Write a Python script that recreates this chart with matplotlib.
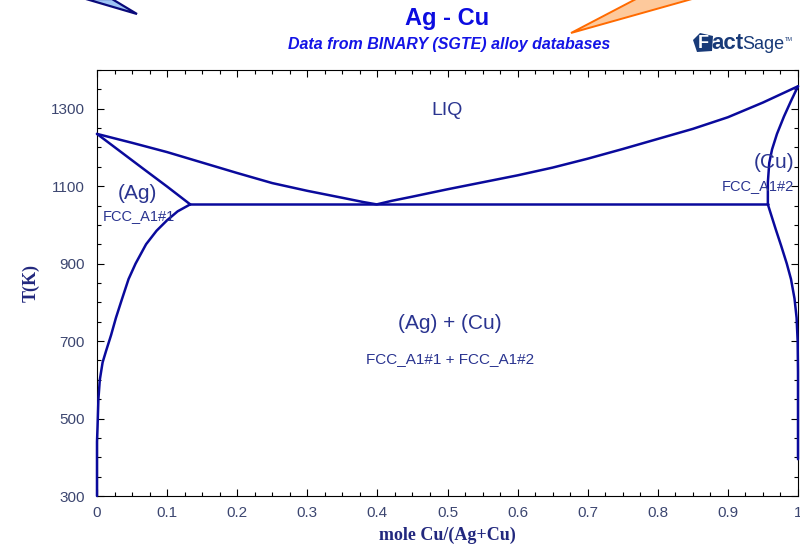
import matplotlib
matplotlib.use("Agg")
import matplotlib.pyplot as plt
from matplotlib.patches import Polygon
from matplotlib.ticker import MultipleLocator

# ---------------- data ----------------
liq_x = [0.0, 0.05, 0.10, 0.15, 0.20, 0.25, 0.30, 0.35, 0.38, 0.399, 0.42, 0.45,
         0.50, 0.55, 0.60, 0.65, 0.70, 0.75, 0.80, 0.85, 0.90, 0.95, 0.975, 1.0]
liq_T = [1235, 1212, 1188, 1161, 1134, 1108, 1088, 1070, 1059, 1053, 1062, 1073,
         1092, 1110, 1128, 1148, 1171, 1196, 1222, 1248, 1278, 1316, 1337, 1358]

ag_sol_x = [0.0, 0.033, 0.066, 0.10, 0.133]
ag_sol_T = [1235, 1190, 1145, 1099, 1053]

ag_svs_x = [0.133, 0.115, 0.10, 0.085, 0.07, 0.055, 0.045, 0.035, 0.027, 0.02,
            0.013, 0.008, 0.004, 0.002, 0.0008, 0.0, 0.0]
ag_svs_T = [1053, 1035, 1012, 985, 950, 900, 860, 805, 760, 715,
            675, 645, 600, 550, 480, 440, 300]

cu_sol_x = [1.0, 0.99, 0.98, 0.97, 0.963, 0.959, 0.957, 0.957]
cu_sol_T = [1358, 1320, 1280, 1235, 1195, 1160, 1110, 1053]

cu_svs_x = [0.957, 0.961, 0.968, 0.976, 0.984, 0.99, 0.995, 0.998, 0.9995, 1.0, 1.0]
cu_svs_T = [1053, 1030, 990, 946, 900, 860, 810, 760, 700, 620, 395]

eut_x = [0.133, 0.957]
eut_T = [1053, 1053]

x_ticks = [0, 0.1, 0.2, 0.3, 0.4, 0.5, 0.6, 0.7, 0.8, 0.9, 1]
x_tick_labels = ["0", "0.1", "0.2", "0.3", "0.4", "0.5", "0.6", "0.7", "0.8", "0.9", "1"]
y_ticks = [300, 500, 700, 900, 1100, 1300]

# ---------------- style ----------------
line_c = "#0a0a9c"
text_c = "#2a3490"
tick_c = "#3c4670"
sans = ["Liberation Sans", "DejaVu Sans"]
serif = ["Liberation Serif", "DejaVu Serif"]

fig = plt.figure(figsize=(8, 5.5), dpi=100)
ax = fig.add_axes([97 / 800, 1 - 496 / 550, 701 / 800, 426 / 550])

for xs, ts in [(liq_x, liq_T), (ag_sol_x, ag_sol_T), (ag_svs_x, ag_svs_T),
               (cu_sol_x, cu_sol_T), (cu_svs_x, cu_svs_T), (eut_x, eut_T)]:
    ax.plot(xs, ts, color=line_c, lw=1.8, solid_joinstyle="round",
            solid_capstyle="round", clip_on=False, zorder=3)

ax.set_xlim(0, 1)
ax.set_ylim(300, 1400)
ax.set_xticks(x_ticks)
ax.set_xticklabels(x_tick_labels)
ax.set_yticks(y_ticks)
ax.xaxis.set_minor_locator(MultipleLocator(0.025))
ax.yaxis.set_minor_locator(MultipleLocator(50))
ax.tick_params(which="both", direction="in", top=True, right=True,
               colors="black", width=0.8)
ax.tick_params(which="major", length=5)
ax.tick_params(which="minor", length=3)
ax.tick_params(axis="y", which="major", pad=9, labelcolor=tick_c)
ax.tick_params(axis="x", which="major", pad=7, labelcolor=tick_c)
for lab in ax.get_xticklabels() + ax.get_yticklabels():
    lab.set_fontfamily(sans)
    lab.set_fontsize(11)
for s in ax.spines.values():
    s.set_linewidth(0.8)
    s.set_color("black")

ax.set_ylabel("T(K)", fontsize=13, fontweight="bold", family=serif,
              color="#22287e", labelpad=8)
ax.set_xlabel("mole Cu/(Ag+Cu)", fontsize=13, fontweight="bold", family=serif,
              color="#22287e", labelpad=5)

# region labels
ax.text(0.50, 1295, "LIQ", fontsize=14, color=text_c, family=sans,
        ha="center", va="center")
ax.text(0.057, 1080, "(Ag)", fontsize=15, color=text_c, family=sans,
        ha="center", va="center")
ax.text(0.060, 1023, "FCC_A1#1", fontsize=10.5, color=text_c, family=sans,
        ha="center", va="center")
ax.text(0.966, 1160, "(Cu)", fontsize=15, color=text_c, family=sans,
        ha="center", va="center")
ax.text(0.943, 1100, "FCC_A1#2", fontsize=10.5, color=text_c, family=sans,
        ha="center", va="center")
ax.text(0.503, 745, "(Ag) + (Cu)", fontsize=15, color=text_c, family=sans,
        ha="center", va="center")
ax.text(0.503, 653, "FCC_A1#1 + FCC_A1#2", fontsize=11, color=text_c,
        family=sans, ha="center", va="center")

# titles
fig.text(447 / 800, 1 - 18 / 550, "Ag - Cu", fontsize=17, fontweight="bold",
         color="#0c0ce0", family=sans, ha="center", va="center")
fig.text(449 / 800, 1 - 44 / 550, "Data from BINARY (SGTE) alloy databases",
         fontsize=11.5, fontweight="bold", style="italic", color="#1414e6",
         family=sans, ha="center", va="center")

# decorative triangles
def P(x, y):
    return (x / 800, 1 - y / 550)

fig.patches.append(Polygon([P(86, -1), P(137, 14), P(112, -1)], closed=True,
                           facecolor="#9ec4f4", edgecolor="#0a0a7a", lw=1.6,
                           transform=fig.transFigure, figure=fig))
fig.patches.append(Polygon([P(636, -1), P(571, 33), P(692, -1)], closed=True,
                           facecolor="#fdc99c", edgecolor="#ff6a00", lw=1.4,
                           transform=fig.transFigure, figure=fig))

# FactSage logo (approximation)
fig.patches.append(Polygon([P(693, 40), P(700, 33), P(713, 36), P(712, 51), P(697, 52)],
                           closed=True, facecolor="#183a78", edgecolor="none",
                           transform=fig.transFigure, figure=fig))
fig.text(703 / 800, 1 - 48 / 550, "F", fontsize=13, fontweight="bold",
         color="white", family=sans, ha="center", va="baseline")
fig.text(711 / 800, 1 - 49 / 550, "act", fontsize=16, fontweight="bold",
         color="#183a78", family=sans, ha="left", va="baseline")
fig.text(742 / 800, 1 - 49 / 550, "Sage", fontsize=13, color="#183a78",
         family=["Liberation Sans Narrow", "Liberation Sans", "DejaVu Sans"],
         ha="left", va="baseline")
fig.text(785 / 800, 1 - 41 / 550, "TM", fontsize=4, color="#183a78",
         family=sans, ha="left", va="baseline")

fig.savefig("out.png", dpi=100)
